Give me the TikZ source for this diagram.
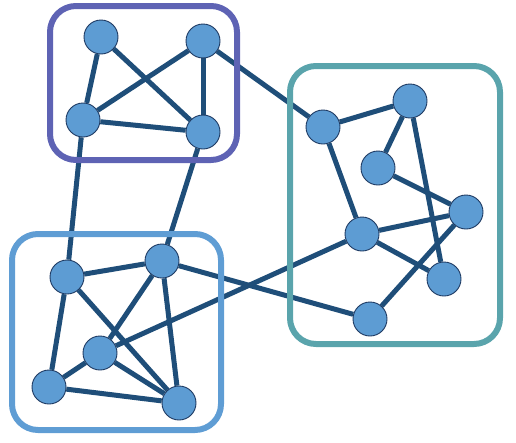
\documentclass[tikz,border=0pt]{standalone}
\usepackage{tikz}
\usetikzlibrary{backgrounds}

\definecolor{linkcol}{RGB}{31,78,121}
\definecolor{vtxfill}{RGB}{93,156,211}
\definecolor{vtxline}{RGB}{30,58,98}
\definecolor{grpPurple}{RGB}{94,99,180}
\definecolor{grpTeal}{RGB}{90,164,172}
\definecolor{grpBlue}{RGB}{95,157,212}

\begin{document}
\begin{tikzpicture}[
    x=1pt, y=-1pt,
    vtx/.style={circle, draw=vtxline, line width=0.9pt, fill=vtxfill, minimum size=34pt, inner sep=0pt},
    link/.style={draw=linkcol, line width=5pt},
    grp/.style={draw, line width=6pt, rounded corners=26pt}]
\useasboundingbox (0,0) rectangle (516,442);
% top cluster
\node[vtx] (a1) at (101,37) {};
\node[vtx] (a2) at (203,41) {};
\node[vtx] (a3) at (83,120) {};
\node[vtx] (a4) at (203,132) {};
% right cluster
\node[vtx] (b1) at (323,127) {};
\node[vtx] (b2) at (410,101) {};
\node[vtx] (b3) at (378,168) {};
\node[vtx] (b4) at (466,212) {};
\node[vtx] (b5) at (362,234) {};
\node[vtx] (b6) at (444,279) {};
\node[vtx] (b7) at (370,319) {};
% bottom cluster
\node[vtx] (c1) at (67,277) {};
\node[vtx] (c2) at (162,261) {};
\node[vtx] (c3) at (100,353) {};
\node[vtx] (c4) at (49,387) {};
\node[vtx] (c5) at (179,403) {};
\begin{scope}[on background layer]
\draw[link] (a1) -- (a3);
\draw[link] (a1) -- (a4);
\draw[link] (a2) -- (a3);
\draw[link] (a2) -- (a4);
\draw[link] (a3) -- (a4);
\draw[link] (a2) -- (b1);
\draw[link] (a3) -- (c1);
\draw[link] (a4) -- (c2);
\draw[link] (b1) -- (b2);
\draw[link] (b1) -- (b5);
\draw[link] (b2) -- (b3);
\draw[link] (b2) -- (b6);
\draw[link] (b3) -- (b4);
\draw[link] (b4) -- (b5);
\draw[link] (b4) -- (b7);
\draw[link] (b5) -- (b6);
\draw[link] (b5) -- (c3);
\draw[link] (c2) -- (b7);
\draw[link] (c1) -- (c2);
\draw[link] (c1) -- (c4);
\draw[link] (c1) -- (c5);
\draw[link] (c2) -- (c3);
\draw[link] (c2) -- (c5);
\draw[link] (c3) -- (c4);
\draw[link] (c3) -- (c5);
\draw[link] (c4) -- (c5);
% groups
\draw[grp, grpPurple] (50,6) rectangle (237,160);
\draw[grp, grpTeal] (290,66) rectangle (500,344);
\draw[grp, grpBlue] (12,234) rectangle (221,430);
\end{scope}
\end{tikzpicture}
\end{document}
